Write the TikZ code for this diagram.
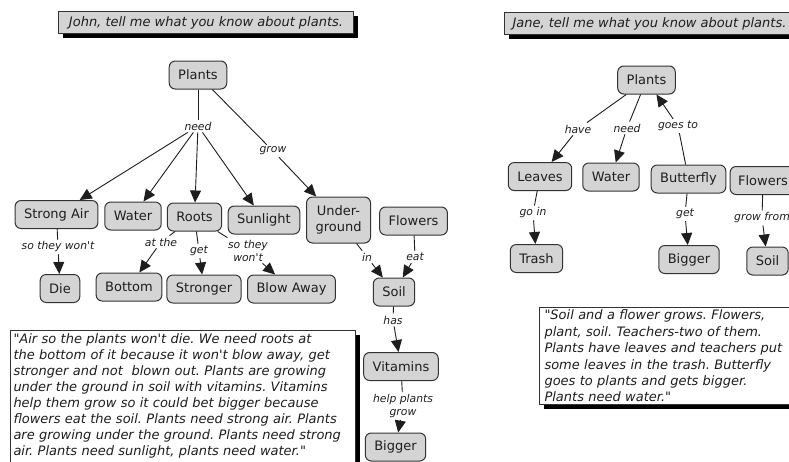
\documentclass[tikz,border=0pt]{standalone}
\usepackage{fontspec}
\setmainfont{DejaVu Sans}
\usetikzlibrary{arrows.meta,shadows}
\definecolor{nodefill}{HTML}{D4D4D4}
\definecolor{edgegray}{HTML}{333333}
\definecolor{inkc}{HTML}{1E1E1E}
\font\lblfont="DejaVu Sans/I" at 10.8pt
\font\parafont="DejaVu Sans/I" at 13pt
\begin{document}
\frenchspacing
\begin{tikzpicture}[x=1pt,y=-1pt,
  concept/.style={draw=edgegray, line width=1pt, fill=nodefill, rounded corners=6pt,
    font=\fontsize{13}{16}\selectfont, text=inkc, inner xsep=9pt, inner ysep=3pt,
    minimum height=28pt, align=center},
  lbl/.style={font={\lblfont\baselineskip=13pt}, text=inkc, inner sep=2pt, align=center},
  ln/.style={draw=inkc, line width=0.9pt},
  arr/.style={ln, -{Triangle[length=12pt,width=11pt]}},
  titlebox/.style={draw=edgegray, line width=1pt, fill=nodefill, anchor=north west,
    font=\fontsize{13}{16}\selectfont\itshape, text=inkc, inner xsep=4pt, inner ysep=2pt,
    minimum height=22pt,
    drop shadow={opacity=1, fill=black, shadow xshift=4.5pt, shadow yshift=-4pt}},
  parabox/.style={draw=edgegray, line width=1pt, fill=white, anchor=north west,
    align=left, text=inkc, inner ysep=3pt,
    drop shadow={opacity=1, fill=black, shadow xshift=4pt, shadow yshift=-4pt}}
]
\useasboundingbox (0,0) rectangle (789,461);
\clip (0,0) rectangle (789,461);
\fill[white] (0,0) rectangle (789,461);

% ---------------- John ----------------
\node[titlebox, minimum width=295pt] (johnq) at (58,11) {John, tell me what you know about plants.};

\node[concept] (plantsL) at (198,75) {Plants};
\node[concept] (strongair) at (56.5,214.5) {Strong Air};
\node[concept] (waterL) at (133,216) {Water};
\node[concept] (roots) at (194.5,217) {Roots};
\node[concept] (sunlight) at (264,220) {Sunlight};
\node[concept, minimum height=46pt] (under) at (338.5,220) {Under-\\ground};
\node[concept] (flowersL) at (413.5,221) {Flowers};
\node[concept] (die) at (60,288.5) {Die};
\node[concept] (bottom) at (129,287) {Bottom};
\node[concept] (stronger) at (204,289) {Stronger};
\node[concept] (blowaway) at (291.5,289) {Blow Away};
\node[concept] (soilL) at (394,292) {Soil};
\node[concept] (vitamins) at (401,366.5) {Vitamins};
\node[concept] (biggerL) at (395.5,447) {Bigger};

\node[lbl] (need) at (198,126) {need};
\node[lbl] (grow) at (273,151) {grow};
\node[lbl] (stw1) at (58,247) {so they won't};
\node[lbl] (atthe) at (161,242) {at the};
\node[lbl] (get1) at (199,251) {get};
\node[lbl] (stw2) at (248,250.5) {so they\\won't};
\node[lbl] (in) at (367,257) {in};
\node[lbl] (eat) at (415,257) {eat};
\node[lbl] (has) at (393,320) {has};
\node[lbl] (help) at (403,406) {help plants\\grow};

\draw[ln] (plantsL) -- (need);
\draw[arr] (need) -- (strongair);
\draw[arr] (need) -- (waterL);
\draw[arr] (need) -- (roots);
\draw[arr] (need) -- (sunlight);
\draw[ln] (plantsL) -- (grow);
\draw[arr] (grow) -- (under);
\draw[ln] (strongair) -- (stw1);
\draw[arr] (stw1) -- (die);
\draw[ln] (roots) -- (atthe);
\draw[arr] (atthe) -- (bottom);
\draw[ln] (roots) -- (get1);
\draw[arr] (get1) -- (stronger);
\draw[ln] (roots) -- (stw2);
\draw[arr] (stw2) -- (blowaway);
\draw[ln] (under) -- (in);
\draw[arr] (in) -- (soilL);
\draw[ln] (flowersL) -- (eat);
\draw[arr] (eat) -- (soilL);
\draw[ln] (soilL) -- (has);
\draw[arr] (has) -- (vitamins);
\draw[ln] (vitamins) -- (help);
\draw[arr] (help) -- (biggerL);

\node[parabox, text width=339pt, inner xsep=3pt, font={\parafont\baselineskip=16pt}] (johntext) at (10,330)
{"Air so the plants won't die. We need roots at\\
the bottom of it because it won't blow away, get\\
stronger and not\ \ blown out. Plants are growing\\
under the ground in soil with vitamins. Vitamins\\
help them grow so it could bet bigger because\\
flowers eat the soil. Plants need strong air. Plants\\
are growing under the ground. Plants need strong\\
air. Plants need sunlight, plants need water."\rule[-14pt]{0pt}{14pt}};

% ---------------- Jane ----------------
\node[titlebox, minimum width=290pt] (janeq) at (504,12) {Jane, tell me what you know about plants.};

\node[concept] (plantsR) at (646.5,80) {Plants};
\node[concept] (leaves) at (540,176.5) {Leaves};
\node[concept] (waterR) at (611,177) {Water};
\node[concept] (butterfly) at (688.5,179) {Butterfly};
\node[concept, inner xsep=8pt] (flowersR) at (763,180.5) {Flowers};
\node[concept] (trash) at (536.5,258.5) {Trash};
\node[concept] (biggerR) at (689,259.5) {Bigger};
\node[concept] (soilR) at (767.5,261) {Soil};

\node[lbl] (have) at (578,129) {have};
\node[lbl] (needR) at (627,128) {need};
\node[lbl] (goesto) at (678,126) {goes to};
\node[lbl] (goin) at (533,213) {go in};
\node[lbl] (getR) at (685,214) {get};
\node[lbl] (growfrom) at (762,218) {grow from};

\draw[ln] (plantsR) -- (have);
\draw[arr] (have) -- (leaves);
\draw[ln] (plantsR) -- (needR);
\draw[arr] (needR) -- (waterR);
\draw[ln] (butterfly) -- (goesto);
\draw[arr] (goesto) -- (plantsR);
\draw[ln] (leaves) -- (goin);
\draw[arr] (goin) -- (trash);
\draw[ln] (butterfly) -- (getR);
\draw[arr] (getR) -- (biggerR);
\draw[ln] (flowersR) -- (growfrom);
\draw[arr] (growfrom) -- (soilR);

\node[parabox, text width=250pt, inner xsep=5pt, inner ysep=2.5pt, font={\parafont\baselineskip=16.4pt}] (janetext) at (539,307)
{"Soil and a flower grows. Flowers,\\
plant, soil. Teachers-two of them.\\
Plants have leaves and teachers put\\
some leaves in the trash. Butterfly\\
goes to plants and gets bigger.\\
Plants need water."};
\end{tikzpicture}
\end{document}
